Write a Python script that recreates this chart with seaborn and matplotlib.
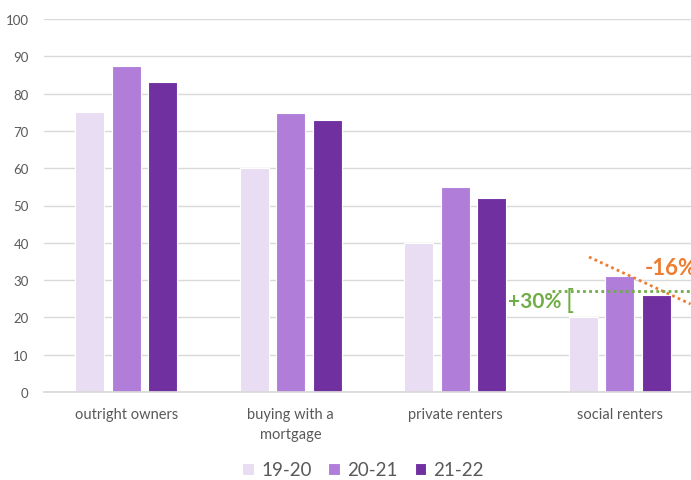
import matplotlib
matplotlib.use("Agg")
import matplotlib.pyplot as plt
import seaborn as sns
import pandas as pd

categories = ["outright owners", "buying with a\nmortgage", "private renters", "social renters"]
series = ["19-20", "20-21", "21-22"]
v1920 = [75, 60, 40, 20]
v2021 = [87.3, 74.8, 55, 31]
v2122 = [83, 73, 52, 26]
colors = ["#E9DDF3", "#B07ED8", "#7030A0"]

rows = []
for s, vals in zip(series, [v1920, v2021, v2122]):
    for c, v in zip(categories, vals):
        rows.append({"category": c, "year": s, "value": v})
df = pd.DataFrame(rows)

sns.set_theme(style="white")
plt.rcParams['font.family'] = ['Lato', 'DejaVu Sans']

fig = plt.figure(figsize=(6.91, 4.81), dpi=100)
ax = fig.add_axes([44/691, 88/481, 658/691, 373/481])

sns.barplot(data=df, x="category", y="value", hue="year", palette=colors,
            width=0.666, gap=0.2, ax=ax, edgecolor="white", linewidth=0.8,
            saturation=1, legend=True)

ax.set_xlim(-0.5, 3.5)
ax.set_ylim(0, 100)
ax.set_yticks(range(0, 101, 10))
ax.yaxis.grid(True, color="#D9D9D9", linewidth=1)
ax.set_axisbelow(True)
for sp in ["top", "right", "left"]:
    ax.spines[sp].set_visible(False)
ax.spines["bottom"].set_color("#D9D9D9")
ax.tick_params(axis="y", length=0, pad=11, labelsize=9.5, labelcolor="#595959")
ax.tick_params(axis="x", length=0, pad=11, labelsize=10.5, labelcolor="#595959")
for lab in ax.get_xticklabels():
    lab.set_linespacing(1.55)
ax.set_xlabel("")
ax.set_ylabel("")

# annotations
ax.plot([2.813, 3.43], [36.2, 23.6], linestyle=(0, (1, 1.2)), color="#ED7D31", linewidth=2)
ax.plot([2.588, 3.5], [27.1, 27.1], linestyle=(0, (1, 1.2)), color="#70AD47", linewidth=2)
ax.text(3.15, 33.5, "-16%", color="#ED7D31", fontsize=16, fontweight="bold", va="center", ha="left")
ax.text(2.485, 24.4, "+30%", color="#70AD47", fontsize=15, fontweight="bold", va="center", ha="center")
ax.text(2.695, 24.6, "[", color="#70AD47", fontsize=19, va="center", ha="center")

handles, labels = ax.get_legend_handles_labels()
leg = ax.legend(handles, labels, loc="center", bbox_to_anchor=(363/691, 10/481),
                bbox_transform=fig.transFigure, ncol=3, frameon=False,
                fontsize=13.5, handlelength=0.6, handleheight=0.6, handletextpad=0.4,
                columnspacing=0.9)
for t in leg.get_texts():
    t.set_color("#595959")

fig.savefig("out.png", dpi=100)
